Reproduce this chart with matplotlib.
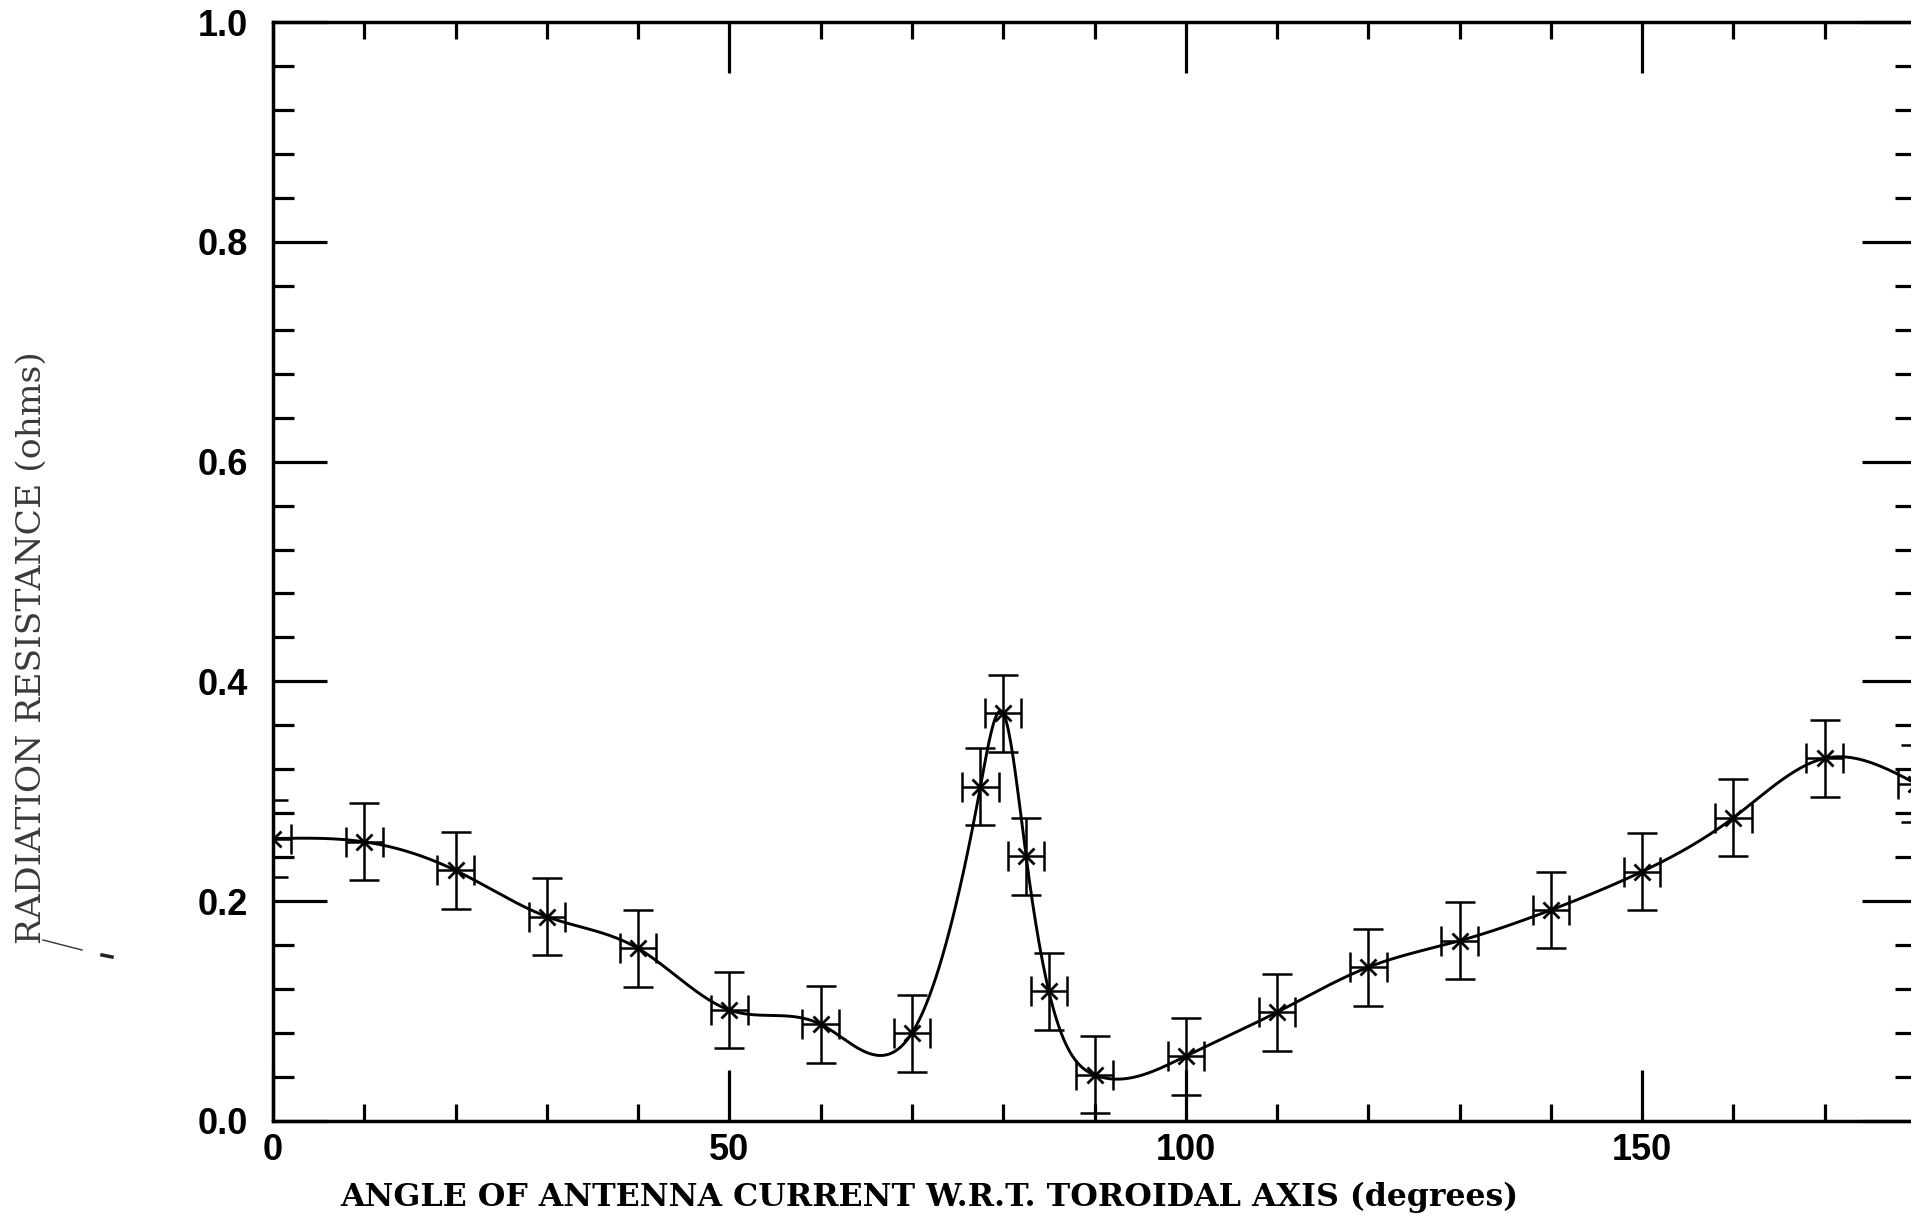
import numpy as np
import matplotlib
matplotlib.use("Agg")
import matplotlib.pyplot as plt
from matplotlib.lines import Line2D
from matplotlib.ticker import MultipleLocator

# ---- data ----
angle_deg = [0, 10, 20, 30, 40, 50, 60, 70, 77.5, 80, 82.5, 85, 90,
             100, 110, 120, 130, 140, 150, 160, 170, 180]
resistance = [0.257, 0.254, 0.228, 0.186, 0.157, 0.101, 0.088, 0.080,
              0.304, 0.371, 0.241, 0.118, 0.042,
              0.059, 0.099, 0.140, 0.164, 0.192, 0.227, 0.276, 0.330, 0.307]
angle_err = [2.0] * len(angle_deg)
resist_err = [0.035] * len(angle_deg)

x_ticks = [0, 50, 100, 150]
y_ticks = [0.0, 0.2, 0.4, 0.6, 0.8, 1.0]
x_label = "ANGLE OF ANTENNA CURRENT W.R.T. TOROIDAL AXIS (degrees)"
y_label = "RADIATION RESISTANCE (ohms)"


def natural_spline(xk, yk, xs):
    xk = np.asarray(xk, float); yk = np.asarray(yk, float)
    n = len(xk)
    h = np.diff(xk)
    A = np.zeros((n, n)); b = np.zeros(n)
    A[0, 0] = 1; A[-1, -1] = 1
    for i in range(1, n - 1):
        A[i, i - 1] = h[i - 1]
        A[i, i] = 2 * (h[i - 1] + h[i])
        A[i, i + 1] = h[i]
        b[i] = 6 * ((yk[i + 1] - yk[i]) / h[i] - (yk[i] - yk[i - 1]) / h[i - 1])
    M = np.linalg.solve(A, b)
    idx = np.clip(np.searchsorted(xk, xs) - 1, 0, n - 2)
    x0 = xk[idx]; x1 = xk[idx + 1]; hh = x1 - x0
    t0 = x1 - xs; t1 = xs - x0
    return (M[idx] * t0**3 / (6 * hh) + M[idx + 1] * t1**3 / (6 * hh)
            + (yk[idx] / hh - M[idx] * hh / 6) * t0
            + (yk[idx + 1] / hh - M[idx + 1] * hh / 6) * t1)


W, H = 1911, 1221
fig = plt.figure(figsize=(W / 100, H / 100), dpi=100)
fig.patch.set_facecolor("white")

left, right, bottom, top = 273, 1916, 1121, 22
ax = fig.add_axes([left / W, 1 - bottom / H, (right - left) / W, (bottom - top) / H])

xs = np.linspace(angle_deg[0], angle_deg[-1], 1500)
ax.plot(xs, natural_spline(angle_deg, resistance, xs), color="black", lw=2.1)
ax.errorbar(angle_deg, resistance, xerr=angle_err, yerr=resist_err, fmt="none",
            ecolor="black", elinewidth=1.8, capsize=11, capthick=1.8)
ax.plot(angle_deg, resistance, "x", color="black", ms=12, mew=2.0)

ax.set_xlim(0, 180)
ax.set_ylim(0, 1.0)
ax.set_xticks(x_ticks)
ax.set_yticks(y_ticks)
ax.xaxis.set_minor_locator(MultipleLocator(10))
ax.yaxis.set_minor_locator(MultipleLocator(0.04))
ax.set_xticklabels([f"{v:d}" for v in x_ticks])
ax.set_yticklabels([f"{v:.1f}" for v in y_ticks])

for s in ax.spines.values():
    s.set_linewidth(2.5)
ax.tick_params(which="both", direction="in", top=True, right=True, width=2.3,
               labelsize=26, colors="black")
ax.tick_params(axis="y", which="major", length=39, pad=18)
ax.tick_params(axis="y", which="minor", length=15)
ax.tick_params(axis="x", which="major", length=37, pad=9)
ax.tick_params(axis="x", which="minor", length=12.5)
for lab in ax.get_xticklabels() + ax.get_yticklabels():
    lab.set_fontfamily("Liberation Sans")
    lab.set_fontweight("bold")

xl = fig.text(929 / W, 1 - 1197 / H, x_label, ha="center", va="center",
              fontsize=25, fontweight="bold", family="DejaVu Serif", color="black")
yl = fig.text(32 / W, 1 - 648 / H, y_label, ha="center", va="center", rotation=90,
              fontsize=22, family="DejaVu Serif", color="#3a3a3a")

# fit label lengths to the reference
fig.canvas.draw()
r = fig.canvas.get_renderer()
bb = xl.get_window_extent(r)
xl.set_fontsize(25 * 1182 / bb.width)
bb = yl.get_window_extent(r)
yl.set_fontsize(22 * 591 / bb.height)

# small stray stroke near the y label (scan artifact)
fig.add_artist(Line2D([43 / W, 82 / W], [1 - 940 / H, 1 - 950 / H], color="#333333", lw=1.0))
fig.add_artist(Line2D([102 / W, 112 / W], [1 - 955 / H, 1 - 957 / H], color="#222222", lw=2.5))

fig.savefig("out.png", dpi=100, facecolor="white")
